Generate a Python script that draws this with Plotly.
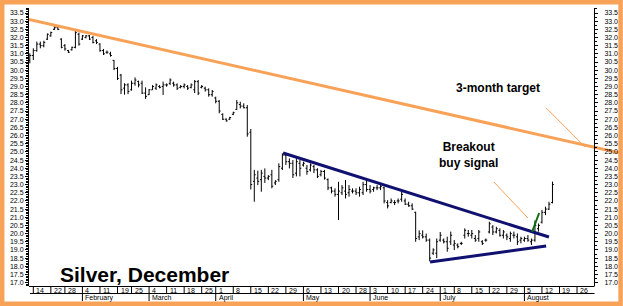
import plotly.graph_objects as go
import pandas as pd

# ---------------- data ----------------
holidays = ["2013-01-21", "2013-02-18", "2013-03-29", "2013-05-27", "2013-07-04"]
calendar = pd.bdate_range("2013-01-11", "2013-08-30", freq="C", holidays=holidays)
bar_dates = calendar[:150]
bar_pos = list(range(len(bar_dates)))

opens = [30.6, 30.9, 31.2, 31.6, 31.5, 31.9, 32.1, 32.5, 32.6, 31.9,
         31.5, 31.2, 31.25, 31.4, 32.2, 31.9, 32.0, 32.1, 32.0, 31.8,
         31.6, 31.2, 31.1, 31.0, 30.6, 30.1, 29.7, 28.9, 29.1, 28.8,
         29.2, 29.3, 29.2, 28.6, 28.5, 28.8, 28.9, 29.0, 29.0, 29.1,
         29.2, 29.2, 29.1, 28.95, 29.0, 29.0, 28.95, 28.8, 29.3, 28.95,
         28.9, 28.8, 28.5, 28.3, 28.1, 27.3, 27.0, 27.0, 27.3, 27.6,
         27.9, 27.8, 27.7, 26.2, 23.2, 23.4, 23.3, 23.5, 23.4, 23.6,
         23.1, 23.3, 24.0, 24.8, 24.4, 24.3, 23.7, 24.3, 24.2, 24.0,
         23.9, 24.1, 23.9, 23.6, 23.8, 23.3, 22.8, 22.6, 22.4, 22.5,
         22.6, 22.5, 22.6, 22.6, 22.5, 22.5, 23.0, 22.7, 22.7, 22.8,
         22.8, 22.8, 21.9, 21.9, 21.9, 22.0, 22.1, 22.0, 21.8, 21.7,
         21.3, 19.8, 19.9, 19.8, 19.6, 18.8, 18.8, 19.6, 19.6, 19.5,
         19.5, 19.3, 19.3, 19.4, 19.9, 20.0, 19.9, 19.7, 19.7, 19.5,
         19.6, 20.1, 20.4, 20.1, 20.2, 19.9, 19.9, 19.7, 19.9, 19.8,
         19.6, 19.6, 19.7, 19.5, 19.6, 20.3, 20.7, 21.3, 21.5, 21.9]

highs = [31.03, 31.34, 31.75, 31.75, 31.80, 32.25, 32.36, 32.70, 32.65, 31.95,
         31.60, 31.24, 31.44, 32.46, 32.30, 32.15, 32.15, 32.15, 32.10, 31.90,
         31.64, 31.30, 31.20, 31.13, 30.62, 30.20, 29.77, 29.20, 29.20, 29.36,
         29.56, 29.36, 29.36, 28.95, 28.85, 29.09, 29.19, 29.09, 29.30, 29.19,
         29.50, 29.30, 29.19, 29.09, 29.19, 29.09, 29.19, 29.40, 29.40, 29.09,
         28.99, 28.89, 28.79, 28.38, 28.17, 27.36, 27.05, 27.15, 27.46, 28.17,
         28.07, 27.97, 27.87, 26.40, 23.90, 23.85, 23.90, 23.99, 23.58, 23.90,
         23.27, 24.30, 24.91, 24.91, 24.60, 24.50, 24.60, 24.50, 24.40, 24.20,
         24.30, 24.20, 24.00, 23.90, 23.90, 23.38, 22.87, 22.77, 23.17, 22.97,
         23.28, 22.97, 22.77, 22.77, 22.87, 23.17, 23.28, 22.97, 22.87, 22.97,
         23.07, 22.87, 22.05, 22.15, 22.05, 22.15, 22.56, 22.15, 21.95, 21.85,
         21.34, 20.20, 20.20, 20.00, 19.70, 19.10, 19.70, 20.10, 19.70, 19.81,
         20.12, 19.61, 19.40, 19.50, 20.32, 20.22, 20.22, 19.91, 20.22, 19.60,
         19.70, 20.73, 20.52, 20.42, 20.32, 20.22, 20.01, 20.12, 20.12, 20.01,
         19.81, 19.81, 19.91, 19.70, 20.80, 20.62, 21.44, 21.65, 21.95, 23.18]

lows = [30.42, 30.62, 31.13, 31.34, 31.40, 31.85, 32.05, 32.46, 32.45, 31.34,
        31.20, 31.05, 31.20, 31.34, 31.50, 31.85, 31.95, 31.85, 31.64, 31.60,
        31.13, 30.93, 31.00, 30.83, 30.01, 29.40, 28.54, 28.50, 28.54, 28.75,
        29.05, 28.95, 28.54, 28.24, 28.48, 28.79, 28.79, 28.89, 28.48, 28.99,
        29.09, 28.99, 28.79, 28.89, 28.89, 28.79, 28.89, 28.60, 28.48, 28.89,
        28.69, 28.38, 28.38, 27.97, 27.36, 26.95, 26.85, 26.95, 27.25, 27.56,
        27.66, 27.66, 25.93, 22.70, 21.95, 22.97, 22.56, 23.10, 23.27, 22.77,
        22.97, 23.17, 23.89, 24.20, 23.99, 23.40, 23.50, 23.50, 24.10, 23.60,
        23.80, 23.70, 23.40, 23.50, 23.30, 22.66, 22.46, 22.26, 20.83, 22.36,
        22.15, 22.26, 22.46, 22.36, 22.26, 22.36, 22.56, 22.46, 22.56, 22.66,
        22.66, 21.85, 21.54, 21.85, 21.75, 21.85, 21.95, 21.75, 21.64, 21.44,
        19.50, 19.60, 19.70, 19.50, 18.30, 18.70, 18.50, 19.50, 19.40, 18.89,
        19.30, 18.99, 19.10, 19.30, 19.70, 19.81, 19.70, 19.50, 19.50, 19.30,
        19.50, 20.01, 19.91, 20.01, 19.81, 19.70, 19.60, 19.50, 19.70, 19.30,
        19.40, 19.50, 19.50, 19.30, 19.50, 20.12, 20.62, 21.13, 21.44, 21.85]

closes = [30.9, 31.2, 31.6, 31.5, 31.7, 32.2, 32.3, 32.6, 32.5, 31.4,
          31.3, 31.1, 31.4, 32.3, 31.6, 32.1, 32.1, 31.9, 31.7, 31.7,
          31.2, 31.0, 31.1, 30.9, 30.1, 29.5, 28.8, 29.1, 28.7, 29.2,
          29.4, 29.1, 28.6, 28.4, 28.8, 29.0, 29.1, 28.95, 29.1, 29.1,
          29.4, 29.1, 28.9, 29.0, 29.1, 28.9, 29.1, 29.3, 28.6, 29.0,
          28.8, 28.5, 28.7, 28.1, 27.5, 27.0, 26.9, 27.1, 27.4, 28.0,
          27.8, 27.7, 26.1, 23.0, 23.6, 23.2, 23.7, 23.4, 23.5, 22.9,
          23.2, 24.1, 24.8, 24.4, 24.3, 23.6, 24.4, 24.0, 24.3, 23.8,
          24.2, 23.9, 23.5, 23.8, 23.4, 22.8, 22.6, 22.4, 22.6, 22.8,
          22.4, 22.7, 22.6, 22.5, 22.7, 23.0, 22.7, 22.6, 22.8, 22.8,
          22.9, 22.0, 21.7, 22.0, 21.9, 22.0, 22.4, 21.8, 21.7, 21.5,
          19.7, 20.0, 19.8, 19.6, 18.5, 19.0, 19.5, 19.9, 19.5, 19.1,
          19.9, 19.4, 19.2, 19.4, 20.2, 20.0, 20.0, 19.6, 20.1, 19.4,
          19.6, 20.6, 20.1, 20.3, 19.9, 20.1, 19.8, 20.0, 19.9, 19.5,
          19.7, 19.7, 19.6, 19.6, 20.5, 20.5, 21.3, 21.5, 21.8, 23.0]

tick_dates = ["2013-01-14", "2013-01-22", "2013-01-28",
              "2013-02-04", "2013-02-11", "2013-02-19", "2013-02-25",
              "2013-03-04", "2013-03-11", "2013-03-18", "2013-03-25",
              "2013-04-01", "2013-04-08", "2013-04-15", "2013-04-22", "2013-04-29",
              "2013-05-06", "2013-05-13", "2013-05-20", "2013-05-28",
              "2013-06-03", "2013-06-10", "2013-06-17", "2013-06-24",
              "2013-07-01", "2013-07-08", "2013-07-15", "2013-07-22", "2013-07-29",
              "2013-08-05", "2013-08-12", "2013-08-19", "2013-08-26"]
tick_labels = ["14", "22", "28", "4", "11", "19", "25", "4", "11", "18", "25",
               "1", "8", "15", "22", "29", "6", "13", "20", "28",
               "3", "10", "17", "24", "1", "8", "15", "22", "29",
               "5", "12", "19", "26"]
month_names = ["February", "March", "April", "May", "June", "July", "August"]
month_first_ticks = ["2013-02-04", "2013-03-04", "2013-04-01", "2013-05-06",
                     "2013-06-03", "2013-07-01", "2013-08-05"]

# trend lines (trading-day position, price)
target_pos = [-0.23, 168.25]
target_price = [33.11, 24.93]
resist_pos = [72.2, 148.0]
resist_price = [24.93, 19.79]
support_pos = [114.1, 147.2]
support_price = [18.26, 19.24]
breakout_pos = [143.2, 145.2]
breakout_price = [20.10, 21.26]
pointer_target_pos = [147.2, 158.3]
pointer_target_price = [27.69, 25.30]
pointer_buy_pos = [132.3, 142.0]
pointer_buy_price = [23.16, 20.95]

# ---------------- layout constants ----------------
W, H = 623, 306
ML, MR, MT, MB = 29, 3, 8, 20
PW, PH = W - ML - MR, H - MT - MB
X_RANGE = [-0.23, 168.25]
Y_RANGE = [16.793, 33.806]
ORANGE = "#F8A258"
NAVY = "#101070"
GREEN = "#0E6E0E"
FONT = "Liberation Sans, Arial, sans-serif"


def px_x(px):
    return (px - ML) / PW


def px_y(py):
    return (H - MB - py) / PH


tick_pos = [calendar.get_loc(pd.Timestamp(d)) for d in tick_dates]
month_pos = [calendar.get_loc(pd.Timestamp(d)) for d in month_first_ticks]

fig = go.Figure()
fig.add_trace(go.Ohlc(
    x=bar_pos, open=opens, high=highs, low=lows, close=closes,
    increasing=dict(line=dict(color="black", width=1)),
    decreasing=dict(line=dict(color="black", width=1)),
    tickwidth=0.4, hoverinfo="skip", showlegend=False))

def add_line(xs, ys, color, width, yaxis="y"):
    fig.add_trace(go.Scatter(x=xs, y=ys, mode="lines", yaxis=yaxis,
                             line=dict(color=color, width=width),
                             hoverinfo="skip", showlegend=False))

add_line(target_pos, target_price, ORANGE, 3, yaxis="y2")
add_line(resist_pos, resist_price, NAVY, 3)
add_line(support_pos, support_price, NAVY, 3)
add_line(breakout_pos, breakout_price, GREEN, 2)
add_line(pointer_target_pos, pointer_target_price, ORANGE, 1)
add_line(pointer_buy_pos, pointer_buy_price, ORANGE, 1)

shapes = []
# outer orange frame
shapes.append(dict(type="rect", xref="paper", yref="paper",
                   x0=px_x(2.2), x1=px_x(620.6), y0=px_y(2.2), y1=px_y(303.8),
                   line=dict(color=ORANGE, width=4.5), fillcolor="rgba(0,0,0,0)"))
# date strip lines
shapes.append(dict(type="line", xref="paper", yref="paper",
                   x0=px_x(29), x1=px_x(594.5), y0=px_y(286.5), y1=px_y(286.5),
                   line=dict(color="black", width=1)))
shapes.append(dict(type="line", xref="paper", yref="paper",
                   x0=px_x(30), x1=px_x(594.5), y0=px_y(293.5), y1=px_y(293.5),
                   line=dict(color="black", width=1)))
for p in tick_pos:
    bottom = 301 if p in month_pos else 293.5
    shapes.append(dict(type="line", xref="x", yref="paper",
                       x0=p, x1=p, y0=px_y(286.5), y1=px_y(bottom),
                       line=dict(color="black", width=1)))

annotations = []
for p, lab in zip(tick_pos, tick_labels):
    annotations.append(dict(x=p, y=px_y(290.2), xref="x", yref="paper",
                            text=lab, showarrow=False, xanchor="left",
                            yanchor="middle", xshift=1,
                            font=dict(family=FONT, size=7, color="black")))
for p, name in zip(month_pos, month_names):
    annotations.append(dict(x=p, y=px_y(297.8), xref="x", yref="paper",
                            text=name, showarrow=False, xanchor="left",
                            yanchor="middle", xshift=1,
                            font=dict(family=FONT, size=7, color="black")))
annotations.append(dict(x=px_x(58), y=px_y(274), xref="paper", yref="paper",
                        text="<b>Silver, December</b>", showarrow=False,
                        xanchor="left", yanchor="middle",
                        font=dict(family=FONT, size=21, color="black")))
annotations.append(dict(x=px_x(498), y=px_y(88), xref="paper", yref="paper",
                        text="<b>3-month target</b>", showarrow=False,
                        xanchor="center", yanchor="middle",
                        font=dict(family=FONT, size=12, color="black")))
annotations.append(dict(x=px_x(468), y=px_y(155), xref="paper", yref="paper",
                        text="<b>Breakout</b><br><b>buy signal</b>", showarrow=False,
                        xanchor="center", yanchor="middle",
                        font=dict(family=FONT, size=12, color="black")))

yaxis_common = dict(range=Y_RANGE, showgrid=False, zeroline=False,
                    showline=True, linecolor="black", linewidth=1,
                    ticks="outside", ticklen=3, tickwidth=1, tickcolor="black",
                    tick0=17, dtick=0.5, tickformat=".1f",
                    tickfont=dict(family=FONT, size=7, color="black"),
                    fixedrange=True)

fig.update_layout(
    width=W, height=H,
    margin=dict(l=ML, r=MR, t=MT, b=MB, pad=0),
    paper_bgcolor="white", plot_bgcolor="white",
    showlegend=False,
    xaxis=dict(range=X_RANGE, showgrid=False, zeroline=False, showline=False,
               showticklabels=False, ticks="", rangeslider=dict(visible=False),
               fixedrange=True),
    yaxis=dict(**yaxis_common, side="left",
               minor=dict(dtick=0.1, ticklen=2, ticks="outside",
                          tickcolor="black", showgrid=False)),
    yaxis2=dict(**yaxis_common, overlaying="y", anchor="free",
                position=px_x(594), side="right", ticklabelstandoff=5,
                minor=dict(dtick=0.25, ticklen=2, ticks="outside",
                           tickcolor="black", showgrid=False)),
    shapes=shapes,
    annotations=annotations,
)

fig.write_html("out.html")
